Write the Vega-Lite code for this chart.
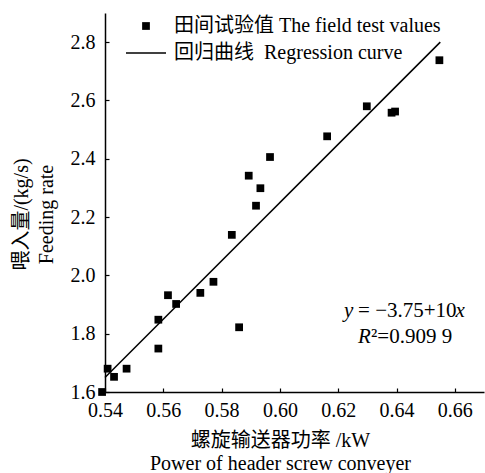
{
  "$schema": "https://vega.github.io/schema/vega-lite/v6.json",
  "width": 379,
  "height": 379,
  "autosize": {"type": "none"},
  "padding": {"left": 105, "top": 13, "right": 1, "bottom": 81},
  "background": "white",
  "config": {
    "view": {"stroke": null},
    "font": "Liberation Serif, Noto Sans CJK SC",
    "axis": {
      "domainColor": "black",
      "domainWidth": 1.5,
      "tickColor": "black",
      "tickWidth": 1.2,
      "tickSize": -4,
      "grid": false,
      "labelFont": "Liberation Serif",
      "labelFontSize": 20,
      "labelColor": "black",
      "titleFont": "Liberation Serif, Noto Sans CJK SC",
      "titleFontSize": 20,
      "titleFontWeight": "normal",
      "titleColor": "black",
      "labelOverlap": false,
      "labelFlush": false
    },
    "legend": {
      "labelFont": "Liberation Serif, Noto Sans CJK SC",
      "labelFontSize": 20,
      "labelColor": "black",
      "labelLimit": 0
    }
  },
  "datasets": {
    "points": [
      {"x": 0.6547, "y": 2.738, "series": "田间试验值 The field test values"},
      {"x": 0.6298, "y": 2.580, "series": "田间试验值 The field test values"},
      {"x": 0.6383, "y": 2.558, "series": "田间试验值 The field test values"},
      {"x": 0.6395, "y": 2.562, "series": "田间试验值 The field test values"},
      {"x": 0.6162, "y": 2.477, "series": "田间试验值 The field test values"},
      {"x": 0.5966, "y": 2.406, "series": "田间试验值 The field test values"},
      {"x": 0.5893, "y": 2.342, "series": "田间试验值 The field test values"},
      {"x": 0.5933, "y": 2.299, "series": "田间试验值 The field test values"},
      {"x": 0.5918, "y": 2.239, "series": "田间试验值 The field test values"},
      {"x": 0.5835, "y": 2.139, "series": "田间试验值 The field test values"},
      {"x": 0.5772, "y": 1.978, "series": "田间试验值 The field test values"},
      {"x": 0.5727, "y": 1.940, "series": "田间试验值 The field test values"},
      {"x": 0.5616, "y": 1.932, "series": "田间试验值 The field test values"},
      {"x": 0.5644, "y": 1.902, "series": "田间试验值 The field test values"},
      {"x": 0.5583, "y": 1.848, "series": "田间试验值 The field test values"},
      {"x": 0.5860, "y": 1.822, "series": "田间试验值 The field test values"},
      {"x": 0.5583, "y": 1.749, "series": "田间试验值 The field test values"},
      {"x": 0.5474, "y": 1.680, "series": "田间试验值 The field test values"},
      {"x": 0.5409, "y": 1.680, "series": "田间试验值 The field test values"},
      {"x": 0.5431, "y": 1.652, "series": "田间试验值 The field test values"},
      {"x": 0.5390, "y": 1.600, "series": "田间试验值 The field test values"}
    ],
    "fit": [
      {"x": 0.54, "y": 1.65, "series": "回归曲线\u00a0 Regression curve"},
      {"x": 0.655, "y": 2.80, "series": "回归曲线\u00a0 Regression curve"}
    ]
  },
  "layer": [
    {
      "data": {"name": "fit"},
      "mark": {"type": "line", "strokeWidth": 1.5, "clip": false},
      "encoding": {
        "x": {
          "field": "x", "type": "quantitative",
          "scale": {"domain": [0.54, 0.67], "nice": false, "zero": false},
          "axis": {
            "values": [0.54, 0.55, 0.56, 0.57, 0.58, 0.59, 0.60, 0.61, 0.62, 0.63, 0.64, 0.65, 0.66, 0.67],
            "labelExpr": "round(datum.value*100) % 2 == 0 ? format(datum.value, '.2f') : ''",
            "labelPadding": 12,
            "title": ["螺旋输送器功率 /kW", "Power of header screw conveyer"],
            "titleX": 175,
            "titleY": 38,
            "titleAlign": "center",
            "titleBaseline": "top",
            "titleLineHeight": 23
          }
        },
        "y": {
          "field": "y", "type": "quantitative",
          "scale": {"domain": [1.6, 2.9], "nice": false, "zero": false},
          "axis": {
            "values": [1.6, 1.7, 1.8, 1.9, 2.0, 2.1, 2.2, 2.3, 2.4, 2.5, 2.6, 2.7, 2.8, 2.9],
            "labelExpr": "round(datum.value*10) % 2 == 0 ? format(datum.value, '.1f') : ''",
            "labelPadding": 14,
            "title": ["喂入量/(kg/s)", "Feeding rate"],
            "titleX": -94,
            "titleY": 201,
            "titleAngle": -90,
            "titleAlign": "center",
            "titleBaseline": "top",
            "titleLineHeight": 25
          }
        },
        "stroke": {
          "field": "series", "type": "nominal",
          "scale": {"domain": ["回归曲线\u00a0 Regression curve"], "range": ["black"]},
          "legend": {
            "title": null,
            "orient": "none",
            "legendX": 20,
            "legendY": 19,
            "padding": 0,
            "labelOffset": 7,
            "symbolType": "stroke",
            "symbolSize": 1600,
            "symbolStrokeWidth": 1.5,
            "symbolStrokeColor": "black"
          }
        }
      }
    },
    {
      "data": {"name": "points"},
      "mark": {"type": "point", "filled": true, "color": "black", "opacity": 1, "size": 60, "clip": false},
      "encoding": {
        "x": {"field": "x", "type": "quantitative"},
        "y": {"field": "y", "type": "quantitative"},
        "shape": {
          "field": "series", "type": "nominal",
          "scale": {"domain": ["田间试验值 The field test values"], "range": ["square"]},
          "legend": {
            "title": null,
            "orient": "none",
            "legendX": 31,
            "legendY": 3,
            "padding": 0,
            "labelOffset": 18,
            "symbolSize": 60,
            "symbolFillColor": "black",
            "symbolStrokeWidth": 0,
            "symbolOpacity": 1
          }
        }
      }
    },
    {
      "data": {"values": [{"x": 0.622, "y": 1.879, "label": "y"}]},
      "mark": {"type": "text", "align": "left", "baseline": "middle", "fontSize": 21, "fontStyle": "italic", "font": "Liberation Serif", "color": "black"},
      "encoding": {"x": {"field": "x", "type": "quantitative"}, "y": {"field": "y", "type": "quantitative"}, "text": {"field": "label"}}
    },
    {
      "data": {"values": [{"x": 0.622, "y": 1.879, "label": "= −3.75+10"}]},
      "mark": {"type": "text", "align": "left", "baseline": "middle", "fontSize": 21, "font": "Liberation Serif", "color": "black", "dx": 14},
      "encoding": {"x": {"field": "x", "type": "quantitative"}, "y": {"field": "y", "type": "quantitative"}, "text": {"field": "label"}}
    },
    {
      "data": {"values": [{"x": 0.622, "y": 1.879, "label": "x"}]},
      "mark": {"type": "text", "align": "left", "baseline": "middle", "fontSize": 21, "fontStyle": "italic", "font": "Liberation Serif", "color": "black", "dx": 111.5},
      "encoding": {"x": {"field": "x", "type": "quantitative"}, "y": {"field": "y", "type": "quantitative"}, "text": {"field": "label"}}
    },
    {
      "data": {"values": [{"x": 0.6268, "y": 1.79, "label": "R"}]},
      "mark": {"type": "text", "align": "left", "baseline": "middle", "fontSize": 21, "fontStyle": "italic", "font": "Liberation Serif", "color": "black"},
      "encoding": {"x": {"field": "x", "type": "quantitative"}, "y": {"field": "y", "type": "quantitative"}, "text": {"field": "label"}}
    },
    {
      "data": {"values": [{"x": 0.6268, "y": 1.79, "label": "²=0.909 9"}]},
      "mark": {"type": "text", "align": "left", "baseline": "middle", "fontSize": 21, "font": "Liberation Serif", "color": "black", "dx": 13},
      "encoding": {"x": {"field": "x", "type": "quantitative"}, "y": {"field": "y", "type": "quantitative"}, "text": {"field": "label"}}
    }
  ]
}
